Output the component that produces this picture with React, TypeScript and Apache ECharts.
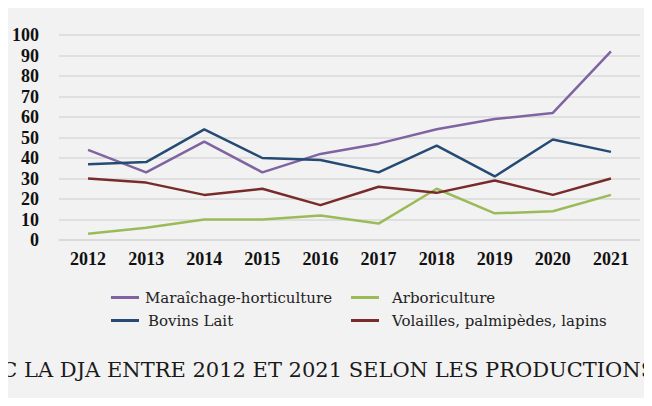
import React, { useEffect, useRef } from "react";
import * as echarts from "echarts";

const years = ["2012", "2013", "2014", "2015", "2016", "2017", "2018", "2019", "2020", "2021"];
const maraichage = [44, 33, 48, 33, 42, 47, 54, 59, 62, 92];
const bovinsLait = [37, 38, 54, 40, 39, 33, 46, 31, 49, 43];
const arboriculture = [3, 6, 10, 10, 12, 8, 25, 13, 14, 22];
const volailles = [30, 28, 22, 25, 17, 26, 23, 29, 22, 30];
const seriesNames = ["Maraîchage-horticulture", "Bovins Lait", "Arboriculture", "Volailles, palmipèdes, lapins"];
const titleText = "EC LA DJA ENTRE 2012 ET 2021 SELON LES PRODUCTIONS";

const colors = ["#8064a2", "#254b74", "#9bbb59", "#782b2b"];
const serif = "'DejaVu Serif', serif";
const labelFont = "'Liberation Serif', serif";

export default function App() {
  const ref = useRef<HTMLDivElement>(null);
  useEffect(() => {
    if (!ref.current) return;
    const chart = echarts.init(ref.current, null, { renderer: "svg" });
    const values = [maraichage, bovinsLait, arboriculture, volailles];
    const legendPos = [
      { left: 111, top: 290, pad: 1 },
      { left: 111, top: 313, pad: 4 },
      { left: 351, top: 290, pad: 8 },
      { left: 351, top: 313, pad: 8 },
    ];
    chart.setOption({
      animation: false,
      backgroundColor: "#f2f2f2",
      color: colors,
      grid: { left: 59, right: 12, top: 35, bottom: 166, containLabel: false },
      xAxis: {
        type: "category",
        data: years,
        boundaryGap: true,
        axisLine: { show: true, lineStyle: { color: "#d9d9d9", width: 1.5 } },
        axisTick: { show: false },
        axisLabel: { color: "#111", fontFamily: labelFont, fontWeight: "bold", fontSize: 18, margin: 10 },
      },
      yAxis: {
        type: "value",
        min: 0,
        max: 100,
        interval: 10,
        axisLine: { show: false },
        axisTick: { show: false },
        splitLine: { lineStyle: { color: "#d9d9d9", width: 1.5 } },
        axisLabel: { color: "#111", fontFamily: labelFont, fontWeight: "bold", fontSize: 18, margin: 20 },
      },
      legend: seriesNames.map((n, i) => ({
        data: [n],
        left: legendPos[i].left,
        top: legendPos[i].top,
        icon: "rect",
        itemWidth: 28,
        itemHeight: 3,
        itemGap: 0,
        padding: 0,
        textStyle: { fontFamily: serif, fontSize: 15, color: "#222", padding: [0, 0, 0, legendPos[i].pad] },
      })),
      series: seriesNames.map((n, i) => ({
        name: n,
        type: "line",
        data: values[i],
        symbol: "none",
        lineStyle: { width: 2.5, color: colors[i] },
        itemStyle: { color: colors[i] },
      })),
      graphic: [
        {
          type: "text",
          left: -14,
          top: 359,
          style: { text: titleText, fontFamily: serif, fontSize: 21, fill: "#1a1a1a" },
        },
      ],
    });
    return () => chart.dispose();
  }, []);
  return <div ref={ref} style={{ width: 652, height: 406, margin: -8 }} />;
}
